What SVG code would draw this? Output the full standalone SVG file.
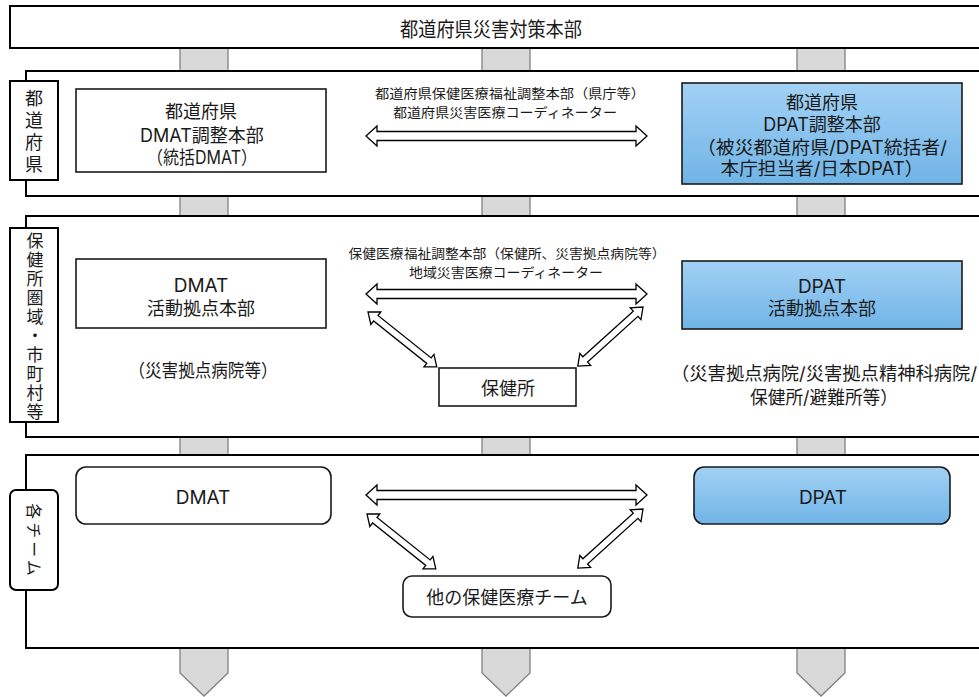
<svg xmlns="http://www.w3.org/2000/svg" width="979" height="697" viewBox="0 0 979 697">
<defs>
<linearGradient id="blue" x1="0" y1="0" x2="0" y2="1">
<stop offset="0" stop-color="#a2d1f4"/>
<stop offset="1" stop-color="#70b4e7"/>
</linearGradient>
<path id="dah" d="M0,0 L11,-10 L11,-4.5 L270,-4.5 L270,-10 L281,0 L270,10 L270,4.5 L11,4.5 L11,10 Z"/>
<path id="dad" d="M0,0 L10,-8 L10,-3.5 L78,-3.5 L78,-8 L88,0 L78,8 L78,3.5 L10,3.5 L10,8 Z"/>
</defs>
<style>
text{font-family:"Noto Sans CJK JP","Noto Sans",sans-serif;fill:#1a1a1a;}
.t{font-family:Inter,"Noto Sans CJK JP",sans-serif;font-size:18px;text-anchor:middle;dominant-baseline:central;}
.s{font-size:13px;text-anchor:middle;dominant-baseline:central;}
.frame{fill:#fff;stroke:#000;stroke-width:2;}
.lab{fill:#fff;stroke:#000;stroke-width:2;}
.box{fill:#fff;stroke:#1a1a1a;stroke-width:1.6;}
.bbox{fill:url(#blue);stroke:#1a1a1a;stroke-width:1.6;}
.gray{fill:#d9d9d9;stroke:#808080;stroke-width:1.3;}
.arr{fill:#fff;stroke:#000;stroke-width:1.3;stroke-linejoin:miter;}
</style>
<rect width="979" height="697" fill="#fff"/>
<g id="gray-connectors">
<rect class="gray" x="180" y="46" width="48" height="27"/>
<rect class="gray" x="482" y="46" width="48" height="27"/>
<rect class="gray" x="797" y="46" width="48" height="27"/>
<rect class="gray" x="180" y="194" width="48" height="24"/>
<rect class="gray" x="482" y="194" width="48" height="24"/>
<rect class="gray" x="797" y="194" width="48" height="24"/>
<rect class="gray" x="180" y="435" width="48" height="22"/>
<rect class="gray" x="482" y="435" width="48" height="22"/>
<rect class="gray" x="797" y="435" width="48" height="22"/>
<path class="gray" d="M180,646 L228,646 L228,673 L204,696 L180,673 Z"/>
<path class="gray" d="M482,646 L530,646 L530,673 L506,696 L482,673 Z"/>
<path class="gray" d="M797,646 L845,646 L845,673 L821,696 L797,673 Z"/>
</g>
<g id="hq">
<rect class="frame" x="10" y="6" width="985" height="42"/>
<text x="491" y="28" style="font-size:20px;text-anchor:middle;dominant-baseline:central;" textLength="182" lengthAdjust="spacingAndGlyphs">都道府県災害対策本部</text>
</g>
<g id="sec1">
<rect class="frame" x="26" y="71" width="970" height="125"/>
<rect class="lab" x="10" y="81" width="48" height="99"/>
<text x="34" y="89" style="font-size:18px;writing-mode:vertical-rl;letter-spacing:4px;">都道府県</text>
</g>
<g id="sec2">
<rect class="frame" x="26" y="216" width="970" height="221"/>
<rect class="lab" x="10" y="228" width="48" height="194"/>
<text x="35" y="232" style="font-size:17px;writing-mode:vertical-rl;letter-spacing:2px;">保健所圏域・市町村等</text>
</g>
<g id="sec3">
<rect class="frame" x="26" y="455" width="970" height="193"/>
<rect class="lab" x="10" y="490" width="48" height="100" rx="6"/>
<text class="t" transform="translate(34,541) rotate(90)" style="font-size:16px;letter-spacing:3px;">各チーム</text>
</g>
<g id="dmat-pref">
<rect class="box" x="76" y="89" width="250" height="83"/>
<text class="t"><tspan x="201" y="111">都道府県</tspan><tspan x="202" y="135">DMAT調整本部</tspan><tspan x="202" y="157" textLength="110" lengthAdjust="spacingAndGlyphs">（統括DMAT）</tspan></text>
</g>
<g id="dpat-pref">
<rect class="bbox" x="682" y="83" width="280" height="101"/>
<text class="t"><tspan x="822" y="102">都道府県</tspan><tspan x="822" y="124">DPAT調整本部</tspan><tspan x="822" y="147" textLength="250" lengthAdjust="spacingAndGlyphs">（被災都道府県/DPAT統括者/</tspan><tspan x="822" y="168" textLength="203" lengthAdjust="spacingAndGlyphs">本庁担当者/日本DPAT）</tspan></text>
</g>
<g id="pref-coord">
<text class="s"><tspan x="510" y="92" textLength="270" lengthAdjust="spacingAndGlyphs">都道府県保健医療福祉調整本部（県庁等）</tspan><tspan x="505" y="111" textLength="224" lengthAdjust="spacingAndGlyphs">都道府県災害医療コーディネーター</tspan></text>
</g>
<g id="dmat-base">
<rect class="box" x="76" y="259" width="250" height="69"/>
<text class="t"><tspan x="201" y="285" style="font-size:19px">DMAT</tspan><tspan x="201" y="308">活動拠点本部</tspan></text>
<text x="203" y="370" class="t" textLength="149" lengthAdjust="spacingAndGlyphs">（災害拠点病院等）</text>
</g>
<g id="dpat-base">
<rect class="bbox" x="682" y="261" width="280" height="68"/>
<text class="t"><tspan x="822" y="286" style="font-size:19px">DPAT</tspan><tspan x="822" y="308">活動拠点本部</tspan></text>
<text class="t"><tspan x="824" y="373" textLength="306" lengthAdjust="spacingAndGlyphs">（災害拠点病院/災害拠点精神科病院/</tspan><tspan x="824" y="397" textLength="148" lengthAdjust="spacingAndGlyphs">保健所/避難所等）</tspan></text>
</g>
<g id="area-coord">
<text class="s"><tspan x="507" y="252" textLength="317" lengthAdjust="spacingAndGlyphs">保健医療福祉調整本部（保健所、災害拠点病院等）</tspan><tspan x="506" y="271" textLength="194" lengthAdjust="spacingAndGlyphs">地域災害医療コーディネーター</tspan></text>
</g>
<g id="hokenjo">
<rect class="box" x="439" y="368" width="137" height="38"/>
<text x="508" y="388" class="t">保健所</text>
</g>
<g id="dmat-team">
<rect class="box" x="76" y="467" width="255" height="57" rx="10"/>
<text x="203" y="497" class="t" style="font-size:19px">DMAT</text>
</g>
<g id="dpat-team">
<rect class="bbox" x="694" y="467" width="256" height="57" rx="10"/>
<text x="823" y="497" class="t" style="font-size:19px">DPAT</text>
</g>
<g id="other-teams">
<rect class="box" x="403" y="576" width="208" height="41" rx="9"/>
<text x="507" y="597" class="t">他の保健医療チーム</text>
</g>
<g id="connectors">
<use href="#dah" class="arr" transform="translate(366,136)"/>
<use href="#dah" class="arr" transform="translate(366,294)"/>
<use href="#dah" class="arr" transform="translate(366,495)"/>
<use href="#dad" class="arr" transform="translate(368,312) rotate(38.6)"/>
<use href="#dad" class="arr" transform="translate(643,307) rotate(137.8)"/>
<use href="#dad" class="arr" transform="translate(367,514) rotate(38.6)"/>
<use href="#dad" class="arr" transform="translate(643,509) rotate(137.8)"/>
</g>
</svg>
